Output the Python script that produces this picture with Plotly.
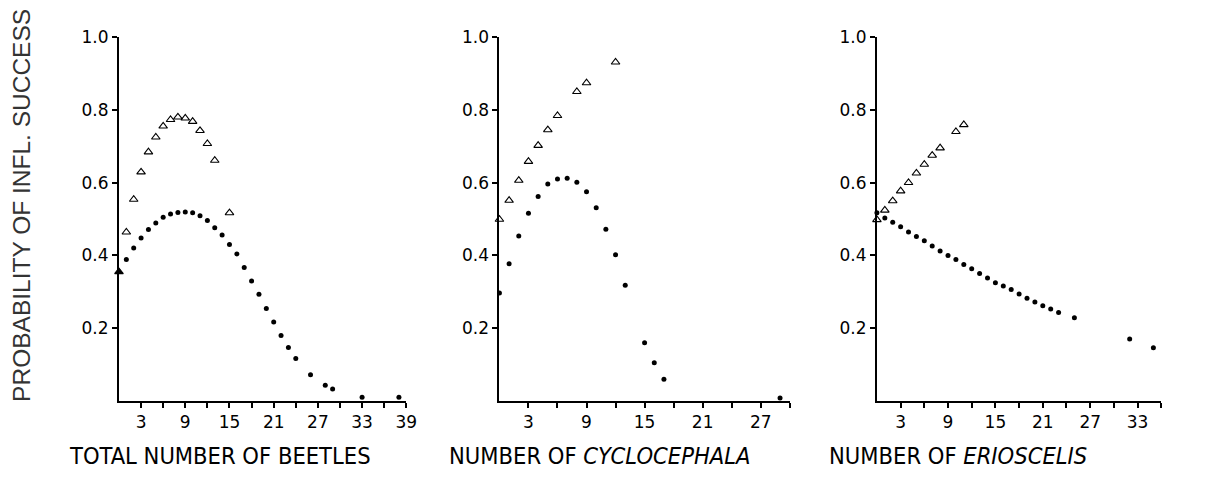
import plotly.graph_objects as go

# ---------------- data ----------------
# Panel 1: total number of beetles
P1_DOT_X = list(range(1, 25)) + [26, 28, 29, 33, 38]
P1_DOT_Y = [0.389, 0.420, 0.448, 0.471, 0.489, 0.505, 0.514, 0.518, 0.519, 0.517,
            0.509, 0.496, 0.476, 0.456, 0.430, 0.404, 0.367, 0.330, 0.293, 0.254,
            0.217, 0.180, 0.147, 0.117, 0.072, 0.043, 0.033, 0.010, 0.010]
P1_TRI_X = list(range(0, 14)) + [15]
P1_TRI_Y = [0.355, 0.464, 0.554, 0.629, 0.684, 0.725, 0.755, 0.773, 0.780, 0.777,
            0.768, 0.743, 0.707, 0.661, 0.517]

# Panel 2: number of Cyclocephala
P2_DOT_X = list(range(0, 14)) + [15, 16, 17, 29]
P2_DOT_Y = [0.297, 0.377, 0.453, 0.516, 0.562, 0.596, 0.610, 0.612, 0.601, 0.575,
            0.531, 0.472, 0.402, 0.318, 0.160, 0.105, 0.060, 0.008]
P2_TRI_X = [0, 1, 2, 3, 4, 5, 6, 8, 9, 12]
P2_TRI_Y = [0.499, 0.551, 0.606, 0.658, 0.702, 0.745, 0.784, 0.850, 0.874, 0.931]

# Panel 3: number of Erioscelis
P3_DOT_X = list(range(0, 24)) + [25, 32, 35]
P3_DOT_Y = [0.517, 0.503, 0.491, 0.479, 0.464, 0.452, 0.440, 0.426, 0.412, 0.400,
            0.389, 0.375, 0.363, 0.350, 0.338, 0.325, 0.316, 0.306, 0.294, 0.282,
            0.272, 0.262, 0.253, 0.243, 0.229, 0.170, 0.146]
P3_TRI_X = [0, 1, 2, 3, 4, 5, 6, 7, 8, 10, 11]
P3_TRI_Y = [0.498, 0.524, 0.550, 0.577, 0.600, 0.626, 0.650, 0.675, 0.695, 0.740, 0.759]

# ticks
X_TICKS_1 = [3, 6, 9, 12, 15, 18, 21, 24, 27, 30, 33, 36, 39]
X_LABELS_1 = ["3", "", "9", "", "15", "", "21", "", "27", "", "33", "", "39"]
X_TICKS_2 = [3, 6, 9, 12, 15, 18, 21, 24, 27, 30]
X_LABELS_2 = ["3", "", "9", "", "15", "", "21", "", "27", ""]
X_TICKS_3 = [3, 6, 9, 12, 15, 18, 21, 24, 27, 30, 33, 36]
X_LABELS_3 = ["3", "", "9", "", "15", "", "21", "", "27", "", "33", ""]
Y_TICKS = [0.2, 0.4, 0.6, 0.8, 1.0]
Y_LABELS = ["0.2", "0.4", "0.6", "0.8", "1.0"]

X_MAX = [39, 30, 36]
X_TITLES = ["TOTAL NUMBER OF BEETLES",
            "NUMBER OF <i>CYCLOCEPHALA</i>",
            "NUMBER OF <i>ERIOSCELIS</i>"]
Y_TITLE = "PROBABILITY OF INFL. SUCCESS"

# ---------------- figure ----------------
OFF = 8                      # default page body margin
W, H = 1210 - 2 * OFF, 497 - 2 * OFF
TOP, BOT = 37, 401           # screen px of y=1.0 and y=0


def sx(px):
    return (px - OFF) / W


def sy(py):
    return (BOT - py) / (BOT - TOP)


fig = go.Figure()

panels = [
    (P1_DOT_X, P1_DOT_Y, P1_TRI_X, P1_TRI_Y),
    (P2_DOT_X, P2_DOT_Y, P2_TRI_X, P2_TRI_Y),
    (P3_DOT_X, P3_DOT_Y, P3_TRI_X, P3_TRI_Y),
]
for i, (dx, dy, tx, ty) in enumerate(panels):
    xa = "x" if i == 0 else f"x{i+1}"
    ya = "y" if i == 0 else f"y{i+1}"
    syms = ["triangle-up-open"] * len(tx)
    if i == 0:
        syms[0] = "triangle-up"
    fig.add_trace(go.Scatter(
        x=tx, y=ty, mode="markers", xaxis=xa, yaxis=ya, cliponaxis=False,
        marker=dict(symbol=syms, size=7.5, color="black",
                    line=dict(color="black", width=1.1)),
        showlegend=False, hoverinfo="skip"))
    fig.add_trace(go.Scatter(
        x=dx, y=dy, mode="markers", xaxis=xa, yaxis=ya, cliponaxis=False,
        marker=dict(symbol="circle", size=5, color="black", line=dict(width=0)),
        showlegend=False, hoverinfo="skip"))

domains_px = [(120, 410), (504, 797), (885, 1172)]
tick_sets = [(X_TICKS_1, X_LABELS_1), (X_TICKS_2, X_LABELS_2), (X_TICKS_3, X_LABELS_3)]
tick_font = dict(family="DejaVu Sans, Liberation Sans, sans-serif", size=17, color="black")

layout = dict(
    width=W, height=H,
    margin=dict(l=0, r=0, t=TOP - OFF, b=H - (BOT - OFF)),
    paper_bgcolor="white", plot_bgcolor="white",
    showlegend=False,
)
for i in range(3):
    sfx = "" if i == 0 else str(i + 1)
    d0, d1 = domains_px[i]
    tv, tt = tick_sets[i]
    layout["xaxis" + sfx] = dict(
        domain=[sx(d0), sx(d1)], range=[0, X_MAX[i]],
        anchor="y" + sfx, showgrid=False, zeroline=False,
        showline=True, linecolor="black", linewidth=2,
        ticks="outside", ticklen=5, tickwidth=1.6, tickcolor="black",
        tickmode="array", tickvals=tv, ticktext=tt,
        tickfont=tick_font, fixedrange=True,
    )
    layout["yaxis" + sfx] = dict(
        domain=[0, 1], range=[0, 1.0],
        anchor="x" + sfx, showgrid=False, zeroline=False,
        showline=True, linecolor="black", linewidth=2,
        ticks="outside", ticklen=5, tickwidth=1.6, tickcolor="black",
        tickmode="array", tickvals=Y_TICKS, ticktext=Y_LABELS,
        tickfont=tick_font, fixedrange=True,
    )

fig.update_layout(**layout)

title_centers = [222, 606, 967]
annotations = []
for i in range(3):
    annotations.append(dict(
        text=X_TITLES[i], xref="paper", yref="paper",
        x=sx(title_centers[i]), y=sy(456), xanchor="center", yanchor="middle",
        showarrow=False,
        font=dict(family="Liberation Sans Narrow, DejaVu Sans Condensed, Arial Narrow, sans-serif",
                  size=23.5, color="black")))
annotations.append(dict(
    text=Y_TITLE, xref="paper", yref="paper",
    x=sx(21), y=sy(205), xanchor="center", yanchor="middle",
    textangle=-90, showarrow=False,
    font=dict(family="Liberation Sans, Arial, sans-serif", size=24.5, color="#333333")))
fig.update_layout(annotations=annotations)

fig.write_html("out.html")
